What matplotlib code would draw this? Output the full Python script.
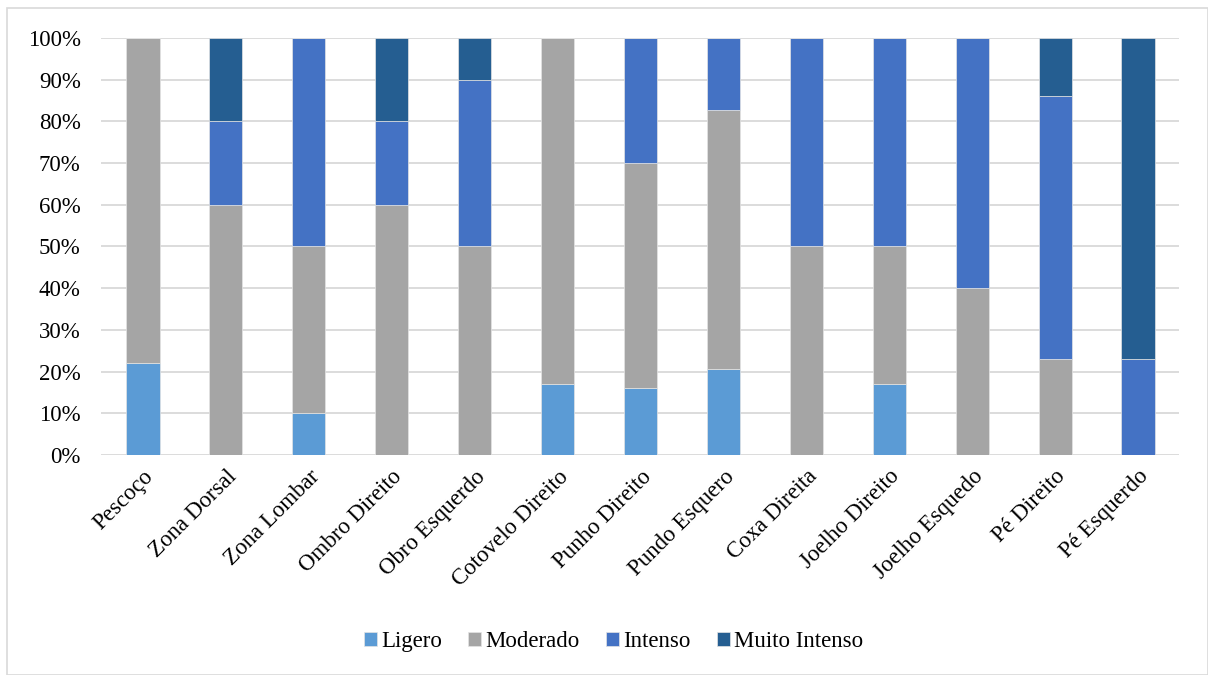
import matplotlib.pyplot as plt
import matplotlib.patches as patches
import numpy as np

plt.rcParams['font.family'] = ['Liberation Serif', 'DejaVu Serif']

zonas = ['Pescoço', 'Zona Dorsal', 'Zona Lombar', 'Ombro Direito', 'Obro Esquerdo',
         'Cotovelo Direito', 'Punho Direito', 'Pundo Esquero', 'Coxa Direita',
         'Joelho Direito', 'Joelho Esquedo', 'Pé Direito', 'Pé Esquerdo']

ligero = [22, 0, 10, 0, 0, 17, 16, 20.7, 0, 17, 0, 0, 0]
moderado = [78, 60, 40, 60, 50, 83, 54, 62.1, 50, 33, 40, 23, 0]
intenso = [0, 20, 50, 20, 40, 0, 30, 17.2, 50, 50, 60, 63, 23]
muito_intenso = [0, 20, 0, 20, 10, 0, 0, 0, 0, 0, 0, 14, 77]

series = [('Ligero', ligero, '#5B9BD5'),
          ('Moderado', moderado, '#A5A5A5'),
          ('Intenso', intenso, '#4472C4'),
          ('Muito Intenso', muito_intenso, '#255E91')]

fig = plt.figure(figsize=(12.08, 6.75), dpi=100)
ax = fig.add_axes([0.084, 0.326, 0.8924, 0.6178])

x = np.arange(len(zonas))
tot = np.array(ligero) + np.array(moderado) + np.array(intenso) + np.array(muito_intenso)
base = np.zeros(len(zonas))
for nome, vals, cor in series:
    pct = np.array(vals, dtype=float) / tot * 100
    ax.bar(x, pct, 0.4, bottom=base, color=cor, label=nome,
           edgecolor='#E4E4E4', linewidth=0.5, zorder=3)
    base += pct

ax.set_xlim(-0.5, len(zonas) - 0.5)
ax.set_ylim(0, 100)
ax.set_yticks(np.arange(0, 101, 10))
ax.set_yticklabels([f'{v}%' for v in range(0, 101, 10)], fontsize=16.5)
ax.set_xticks(x)
ax.set_xticklabels(zonas, rotation=45, ha='right', va='top',
                   rotation_mode='anchor', fontsize=16.5)
ax.tick_params(axis='y', length=0, pad=15)
ax.tick_params(axis='x', length=0, pad=8)
ax.grid(axis='y', color='#D9D9D9', linewidth=1.3, zorder=0)
for s in ax.spines.values():
    s.set_visible(False)

ax.legend(loc='center', bbox_to_anchor=(0.508, 0.049), bbox_transform=fig.transFigure,
          ncol=4, frameon=False, fontsize=16.5, handlelength=0.55, handleheight=0.55,
          handletextpad=0.2, columnspacing=1.15)

# moldura do gráfico
fig.patches.append(patches.Rectangle((0.006, 0.0), 0.994, 0.988,
                                     transform=fig.transFigure, fill=False,
                                     edgecolor='#D9D9D9', linewidth=1.2))

fig.savefig('out.png', dpi=100)
